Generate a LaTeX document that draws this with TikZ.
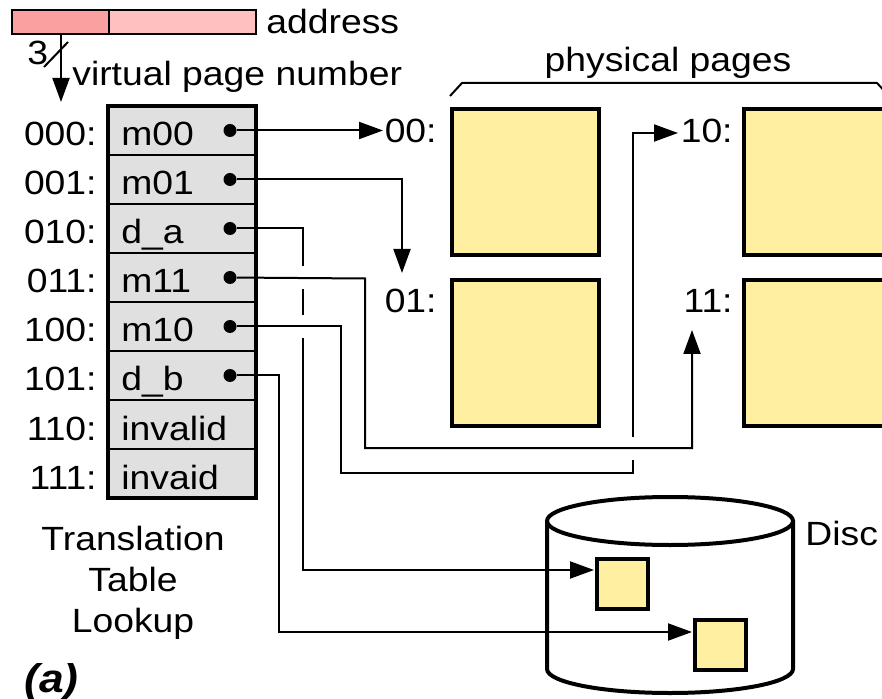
\documentclass[tikz,border=0pt]{standalone}
\usepackage{fontspec}
\setmainfont{Liberation Sans}[FakeStretch=1.11]
\usetikzlibrary{arrows.meta}
\definecolor{pagefill}{RGB}{255,239,160}
\definecolor{cellfill}{RGB}{224,224,224}
\definecolor{addrL}{RGB}{250,160,160}
\definecolor{addrR}{RGB}{255,192,192}
\tikzset{
  conn/.style={line width=1pt},
  arr/.style={conn,-{Triangle[length=12pt,width=8.5pt]}},
  lbl/.style={font=\fontsize{16.8}{20.5}\selectfont, inner sep=0pt},
  pagebox/.style={draw, line width=2pt, fill=pagefill, inner sep=0pt,
                  minimum width=73.5pt, minimum height=73pt, anchor=north west},
  discpage/.style={draw, line width=2pt, fill=pagefill, inner sep=0pt,
                   minimum width=25.5pt, minimum height=25pt, anchor=north west},
  dotn/.style={circle, fill, inner sep=0pt, minimum size=6.5pt},
}
\begin{document}
\begin{tikzpicture}[x=0.5pt,y=-0.5pt]
\useasboundingbox (0,0) rectangle (882,699);
\clip (0,0) rectangle (882,699);

% address register with the page-number field
\fill[addrL] (12,10) rectangle (109,34);
\fill[addrR] (109,10) rectangle (256,34);
\draw[line width=1pt] (12,10) rectangle (256,34) (109,10) -- (109,34);
\node[lbl, anchor=base west] (addr) at (266,34) {address};
\coordinate (vpn) at (61,34);
\coordinate (tipV) at (61,102);
\draw[arr] (vpn) -- (tipV);
\draw[conn] (44,67) -- (68,42);
\node[lbl, anchor=base west] (three) at (27,65) {3};
\node[lbl, anchor=base west] (vpnlbl) at (72,86) {virtual page number};

% translation table
\foreach \i/\ad/\en in {0/000/m00,1/001/m01,2/010/d\_a,3/011/m11,
                        4/100/m10,5/101/d\_b,6/110/invalid,7/111/invaid}{
  \pgfmathsetmacro\yt{106+49*\i}
  \draw[fill=cellfill, line width=1pt] (108,\yt) rectangle (256,\yt+49);
  \node[lbl, anchor=base east] (a\i) at (97,\yt+40) {\ad:};
  \node[lbl, anchor=base west] (e\i) at (121,\yt+40) {\en};
}
\draw[line width=2pt] (108,106) rectangle (256,498);
\foreach \i in {0,...,5}
  \node[dotn] (d\i) at (230,130.5+49*\i) {};

\node[lbl, align=center, anchor=north] (cap) at (133,526)
  {Translation\\Table\\Lookup};

% physical memory pages
\node[pagebox] (p00) at (450,107) {};
\node[pagebox] (p10) at (742,107) {};
\node[pagebox] (p01) at (450,278) {};
\node[pagebox] (p11) at (742,278) {};
\node[lbl, anchor=base east] (l00) at (437,143) {00:};
\node[lbl, anchor=base east] (l10) at (733,143) {10:};
\node[lbl, anchor=base east] (l01) at (437,313) {01:};
\node[lbl, anchor=base east] (l11) at (733,313) {11:};
\draw[conn] (450,96) -- (462,83) -- (877,83) -- (889,96);
\node[lbl, anchor=base] (phys) at (668,72) {physical pages};

% disc
\draw[line width=2pt, fill=white] (547,521) -- (547,669)
  arc[start angle=180, end angle=360, x radius=61.5pt, y radius=12pt]
  -- (793,521);
\draw[line width=2pt] (670,521) ellipse [x radius=61.5pt, y radius=12pt];
\node[discpage] (da) at (595,557) {};
\node[discpage] (db) at (693,618) {};
\node[lbl, anchor=base west] (disc) at (805,545) {Disc};

% arrow tips
\coordinate (t00) at (383,130.5);
\coordinate (t01) at (402,273);
\coordinate (t10) at (678,133);
\coordinate (t11) at (692,330);
\coordinate (tA) at (594,570);
\coordinate (tB) at (692,632);

% mappings
\draw[arr] (d0) -- (t00);
\draw[arr] (d1) -| (t01);
\draw[arr] (d3) -- (365,278.5) -- (365,448) -- (692,448) -- (t11);
\draw[conn] (d4) -- (341,326.5) -- (341,473) -- (633,473) -- (633,460);
\draw[arr] (633,437) -- (633,133) -- (t10);
\draw[conn] (d2) -- (303,228.5) -- (303,266);
\draw[conn] (303,289) -- (303,315);
\draw[arr] (303,338) -- (303,570) -- (tA);
\draw[arr] (d5) -- (279,375.5) -- (279,632) -- (tB);

\node[lbl, font=\fontsize{20}{24}\selectfont\bfseries\itshape, anchor=base west]
  (fig) at (24,692) {(a)};
\end{tikzpicture}
\end{document}
